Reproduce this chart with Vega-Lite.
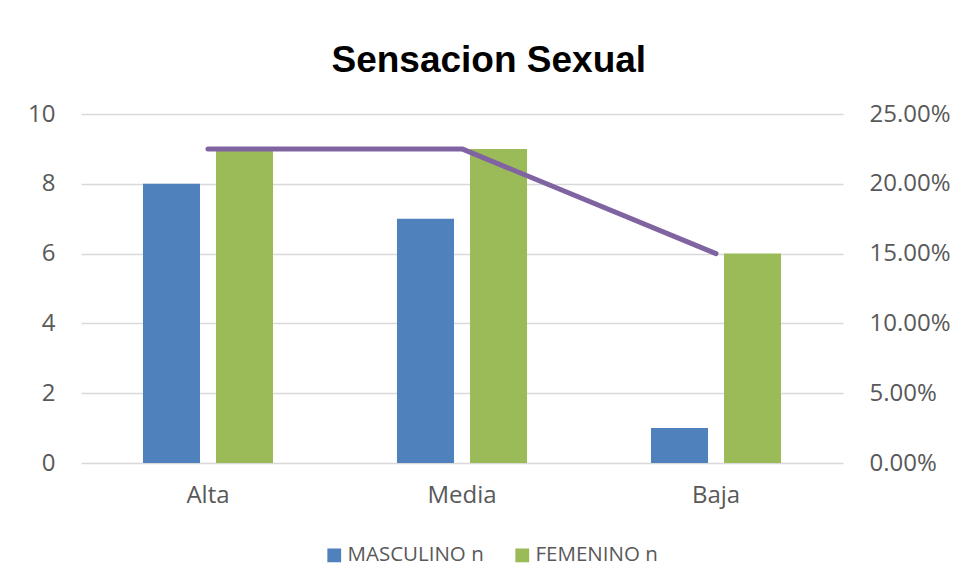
{
  "$schema": "https://vega.github.io/schema/vega-lite/v6.json",
  "autosize": "none",
  "width": 762,
  "height": 349,
  "padding": {"left": 81, "top": 114, "right": 111, "bottom": 121},
  "background": "white",
  "config": {
    "view": {"stroke": null},
    "font": "Open Sans",
    "axis": {"labelFont": "Open Sans", "labelColor": "#595959", "labelFontSize": 24}
  },
  "title": {
    "text": "Sensacion Sexual",
    "font": "Liberation Sans",
    "fontSize": 37,
    "fontWeight": "bold",
    "color": "#000000",
    "offset": 22,
    "frame": "bounds",
    "anchor": "middle"
  },
  "datasets": {
    "bars": [
      {"nivel": "Alta", "sexo": "MASCULINO n", "n": 8},
      {"nivel": "Alta", "sexo": "FEMENINO n", "n": 9},
      {"nivel": "Media", "sexo": "MASCULINO n", "n": 7},
      {"nivel": "Media", "sexo": "FEMENINO n", "n": 9},
      {"nivel": "Baja", "sexo": "MASCULINO n", "n": 1},
      {"nivel": "Baja", "sexo": "FEMENINO n", "n": 6}
    ],
    "pct": [
      {"nivel": "Alta", "p": 0.225},
      {"nivel": "Media", "p": 0.225},
      {"nivel": "Baja", "p": 0.15}
    ]
  },
  "layer": [
    {
      "data": {"name": "bars"},
      "mark": {"type": "bar"},
      "encoding": {
        "x": {
          "field": "nivel", "type": "nominal", "sort": ["Alta", "Media", "Baja"],
          "scale": {"paddingInner": 0.488, "paddingOuter": 0.244},
          "axis": {"title": null, "labelAngle": 0, "domain": false, "ticks": false, "labelPadding": 20, "labelFontSize": 24}
        },
        "xOffset": {
          "field": "sexo", "type": "nominal", "sort": ["MASCULINO n", "FEMENINO n"],
          "scale": {"paddingInner": 0.219, "paddingOuter": 0}
        },
        "y": {
          "field": "n", "type": "quantitative",
          "scale": {"domain": [0, 10]},
          "axis": {"title": null, "values": [0, 2, 4, 6, 8, 10], "domain": false, "ticks": false, "gridColor": "#D9D9D9", "gridWidth": 1.5, "labelPadding": 26}
        },
        "color": {
          "field": "sexo", "type": "nominal", "sort": ["MASCULINO n", "FEMENINO n"],
          "scale": {"domain": ["MASCULINO n", "FEMENINO n"], "range": ["#4F81BD", "#9BBB59"]},
          "legend": {
            "title": null, "orient": "none", "direction": "horizontal",
            "legendX": 243, "legendY": 431,
            "symbolType": "square", "symbolSize": 190, "symbolStrokeWidth": 0,
            "labelFont": "Open Sans", "labelFontSize": 20.5, "labelColor": "#595959",
            "columnPadding": 28, "labelOffset": 3
          }
        }
      }
    },
    {
      "data": {"name": "pct"},
      "mark": {"type": "line", "color": "#8064A2", "strokeWidth": 5, "strokeCap": "round", "strokeJoin": "round"},
      "encoding": {
        "x": {"field": "nivel", "type": "nominal", "sort": ["Alta", "Media", "Baja"]},
        "y": {
          "field": "p", "type": "quantitative",
          "scale": {"domain": [0, 0.25]},
          "axis": {"orient": "right", "title": null, "format": ".2%", "values": [0, 0.05, 0.1, 0.15, 0.2, 0.25], "grid": false, "domain": false, "ticks": false, "labelPadding": 26}
        }
      }
    }
  ],
  "resolve": {"scale": {"y": "independent"}}
}
